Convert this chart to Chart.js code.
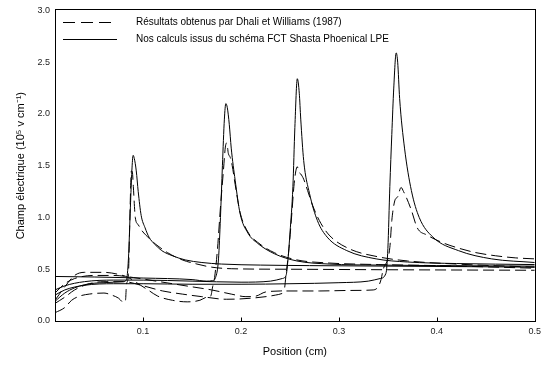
<!DOCTYPE html>
<html><head><meta charset="utf-8">
<script src="https://cdn.jsdelivr.net/npm/chart.js@4/dist/chart.umd.min.js"></script>
<style>html,body{margin:0;padding:0;background:#fff}#wrap{width:546px;height:365px}</style>
</head><body><div id="wrap"><canvas id="c" width="546" height="365"></canvas></div>
<script>
// ---- data ----
const seriesNames = ['Résultats obtenus par Dhali et Williams (1987)', 'Nos calculs issus du schéma FCT Shasta Phoenical LPE'];
const xTitle = 'Position (cm)';
const yTitle = 'Champ électrique (10\u2075 v cm\u207B\u00B9)';
const xTicks = [0.1, 0.2, 0.3, 0.4, 0.5];
const yTicks = [0, 0.5, 1.0, 1.5, 2.0, 2.5, 3.0];

// Dhali & Williams (dashed), one profile per streamer time
const dhali1 = [[0.01,0.08],[0.02,0.13],[0.027,0.2],[0.035,0.24],[0.045,0.26],[0.06,0.27],[0.068,0.25],[0.075,0.22],[0.08,0.18],[0.082,0.2],[0.083,0.35],[0.085,0.45],[0.086,0.8],[0.087,1.2],[0.088,1.45],[0.089,1.44],[0.09,1.3],[0.092,1.0],[0.095,0.93],[0.099,0.87],[0.106,0.8],[0.113,0.74],[0.125,0.66],[0.14,0.59],[0.155,0.55],[0.17,0.52],[0.19,0.505],[0.25,0.5],[0.35,0.495],[0.5,0.49]];
const dhali2 = [[0.01,0.2],[0.02,0.33],[0.03,0.44],[0.04,0.47],[0.06,0.47],[0.075,0.45],[0.085,0.42],[0.095,0.36],[0.105,0.3],[0.115,0.24],[0.13,0.2],[0.145,0.185],[0.158,0.2],[0.165,0.23],[0.169,0.24],[0.171,0.33],[0.173,0.42],[0.176,0.7],[0.179,1.1],[0.182,1.45],[0.184,1.68],[0.1855,1.72],[0.187,1.62],[0.189,1.58],[0.191,1.5],[0.194,1.32],[0.199,1.05],[0.207,0.86],[0.217,0.76],[0.234,0.66],[0.257,0.59],[0.29,0.56],[0.34,0.545],[0.4,0.535],[0.5,0.51]];
const dhali3 = [[0.01,0.27],[0.02,0.36],[0.03,0.41],[0.05,0.44],[0.07,0.44],[0.09,0.42],[0.11,0.39],[0.13,0.36],[0.15,0.33],[0.17,0.3],[0.19,0.26],[0.205,0.235],[0.215,0.24],[0.225,0.28],[0.24,0.29],[0.244,0.3],[0.246,0.45],[0.249,0.7],[0.252,1.05],[0.254,1.3],[0.256,1.45],[0.2575,1.49],[0.259,1.44],[0.261,1.42],[0.264,1.37],[0.268,1.26],[0.273,1.12],[0.28,0.97],[0.29,0.83],[0.31,0.7],[0.34,0.62],[0.37,0.58],[0.42,0.55],[0.5,0.52]];
const dhali4 = [[0.01,0.17],[0.02,0.23],[0.03,0.3],[0.045,0.36],[0.06,0.38],[0.08,0.38],[0.1,0.34],[0.12,0.29],[0.14,0.26],[0.16,0.235],[0.185,0.21],[0.21,0.22],[0.235,0.25],[0.243,0.27],[0.246,0.29],[0.28,0.29],[0.31,0.295],[0.335,0.3],[0.34,0.33],[0.343,0.4],[0.345,0.49],[0.352,0.71],[0.354,0.97],[0.357,1.16],[0.36,1.2],[0.3635,1.29],[0.366,1.25],[0.369,1.19],[0.374,1.07],[0.38,0.9],[0.39,0.83],[0.405,0.76],[0.42,0.71],[0.44,0.66],[0.46,0.63],[0.48,0.61],[0.5,0.6]];

// FCT Shasta Phoenical LPE (solid)
const fct1 = [[0.01,0.19],[0.02,0.27],[0.03,0.32],[0.04,0.35],[0.05,0.365],[0.06,0.37],[0.07,0.375],[0.08,0.38],[0.083,0.4],[0.085,0.6],[0.087,1.1],[0.0885,1.45],[0.0898,1.6],[0.091,1.57],[0.093,1.45],[0.095,1.25],[0.098,1.02],[0.102,0.9],[0.106,0.81],[0.112,0.74],[0.119,0.68],[0.13,0.63],[0.143,0.59],[0.16,0.565],[0.18,0.55],[0.22,0.54],[0.27,0.535],[0.35,0.53],[0.43,0.525],[0.5,0.52]];
const fct2 = [[0.01,0.43],[0.05,0.425],[0.1,0.415],[0.15,0.4],[0.165,0.385],[0.171,0.39],[0.174,0.42],[0.177,0.6],[0.179,1.0],[0.181,1.5],[0.183,1.95],[0.1845,2.1],[0.186,2.06],[0.188,1.9],[0.19,1.67],[0.194,1.36],[0.199,1.04],[0.207,0.85],[0.217,0.75],[0.234,0.65],[0.257,0.58],[0.29,0.55],[0.34,0.54],[0.4,0.535],[0.5,0.53]];
const fct3 = [[0.01,0.3],[0.02,0.34],[0.04,0.38],[0.07,0.395],[0.1,0.395],[0.15,0.385],[0.2,0.375],[0.23,0.385],[0.242,0.41],[0.246,0.44],[0.248,0.6],[0.25,0.85],[0.253,1.3],[0.255,1.87],[0.2575,2.34],[0.2595,2.2],[0.261,1.95],[0.264,1.55],[0.27,1.23],[0.278,0.97],[0.288,0.81],[0.308,0.68],[0.338,0.6],[0.37,0.57],[0.42,0.555],[0.5,0.545]];
const fct4 = [[0.01,0.25],[0.02,0.3],[0.04,0.345],[0.07,0.36],[0.1,0.36],[0.15,0.355],[0.2,0.355],[0.25,0.36],[0.3,0.37],[0.33,0.385],[0.342,0.41],[0.348,0.46],[0.35,0.7],[0.352,1.3],[0.354,1.8],[0.356,2.25],[0.3585,2.59],[0.36,2.5],[0.362,2.15],[0.367,1.67],[0.374,1.26],[0.382,1.0],[0.396,0.81],[0.422,0.68],[0.456,0.6],[0.5,0.565]];

const dashedSeries = [dhali1, dhali2, dhali3, dhali4];
const solidSeries = [fct1, fct2, fct3, fct4];

// ---- chart ----
const FONT = "'Liberation Sans', Arial, Helvetica, sans-serif";
Chart.defaults.font.family = FONT;
Chart.defaults.color = '#111';

const toXY = arr => arr.map(([x, y]) => ({x, y}));
const datasets = [];
dashedSeries.forEach((s, i) => datasets.push({
  label: seriesNames[0] + ' ' + (i + 1), data: toXY(s), borderColor: '#000', borderWidth: 1,
  borderDash: [11, 5], pointRadius: 0, fill: false, cubicInterpolationMode: 'monotone'
}));
solidSeries.forEach((s, i) => datasets.push({
  label: seriesNames[1] + ' ' + (i + 1), data: toXY(s), borderColor: '#000', borderWidth: 1,
  pointRadius: 0, fill: false, cubicInterpolationMode: 'monotone'
}));

const framePlugin = {
  id: 'frame',
  afterDraw(chart) {
    const {ctx, chartArea: a, scales: {x}} = chart;
    ctx.save();
    ctx.strokeStyle = '#000';
    ctx.lineWidth = 1;
    const L = Math.round(a.left) + 0.5, R = Math.round(a.right) + 0.5;
    const T = Math.round(a.top) - 0.5, B = Math.round(a.bottom) + 0.5;
    ctx.strokeRect(L, T, R - L, B - T);
    // inward x tick marks
    xTicks.forEach(v => {
      const px = Math.round(x.getPixelForValue(v)) + 0.5;
      ctx.beginPath(); ctx.moveTo(px, B); ctx.lineTo(px, B - 4); ctx.stroke();
    });
    // legend
    const lx0 = 63, lx1 = 117, tx = 136;
    const rows = [{y: 22, dash: [12, 6]}, {y: 39, dash: []}];
    ctx.font = '10px ' + FONT;
    ctx.fillStyle = '#000';
    ctx.textBaseline = 'middle';
    rows.forEach((r, i) => {
      ctx.setLineDash(r.dash);
      ctx.beginPath(); ctx.moveTo(lx0, r.y + 0.5); ctx.lineTo(lx1, r.y + 0.5); ctx.stroke();
      ctx.setLineDash([]);
      ctx.fillText(seriesNames[i], tx, r.y + 0.5);
    });
    ctx.restore();
  }
};

new Chart(document.getElementById('c'), {
  type: 'line',
  data: {datasets},
  options: {
    responsive: false, animation: false, devicePixelRatio: 1,
    layout: {padding: {top: 10, right: 7, left: 0, bottom: 0}},
    plugins: {legend: {display: false}, tooltip: {enabled: false}},
    scales: {
      x: {
        type: 'linear', min: 0.01, max: 0.5,
        grid: {display: false, drawTicks: false}, border: {display: false},
        afterBuildTicks: s => { s.ticks = xTicks.map(v => ({value: v})); },
        ticks: {font: {size: 9}, padding: 5, color: '#222', maxRotation: 0, callback: v => v.toFixed(1)},
        title: {display: true, text: xTitle, font: {size: 11}, color: '#000', padding: {top: 0, bottom: 6}},
        afterFit: s => { s.height = 44; }
      },
      y: {
        type: 'linear', min: 0, max: 3,
        grid: {display: false, drawTicks: false}, border: {display: false},
        afterBuildTicks: s => { s.ticks = yTicks.map(v => ({value: v})); },
        ticks: {font: {size: 9}, padding: 5, color: '#222', callback: v => v.toFixed(1)},
        title: {display: true, text: yTitle, font: {size: 11}, color: '#000', padding: {top: 14, bottom: 0}},
        afterFit: s => { s.width = 55; }
      }
    }
  },
  plugins: [framePlugin]
});
</script></body></html>
